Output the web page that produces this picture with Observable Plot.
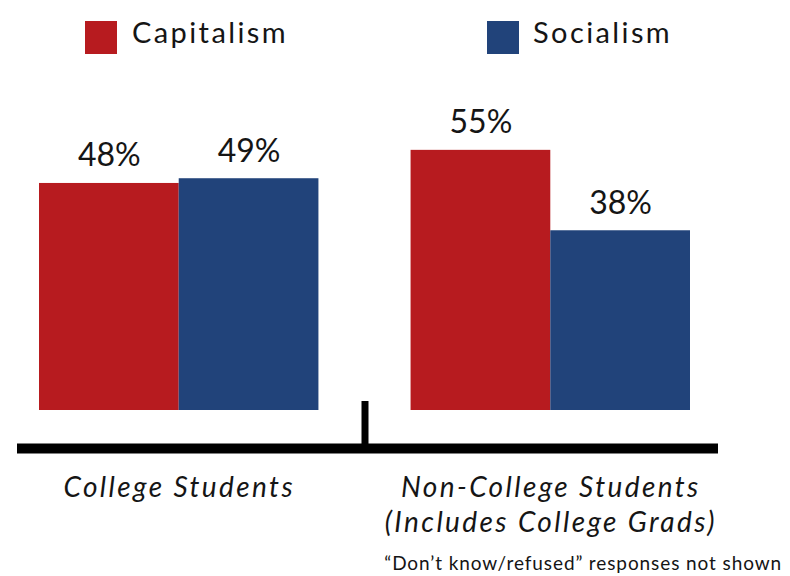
<!DOCTYPE html>
<html>
<head>
<meta charset="utf-8">
<script src="https://cdn.jsdelivr.net/npm/d3@7"></script>
<script src="https://cdn.jsdelivr.net/npm/@observablehq/plot@0.6"></script>
<style>
  html, body { margin: 0; padding: 0; background: #fff; }
  #wrap { position: relative; width: 790px; height: 576px; font-family: Lato, "DejaVu Sans", sans-serif; font-weight: 400; color: #151515; }
  .sw { position: absolute; width: 32px; height: 33px; top: 21px; }
  .lt { position: absolute; top: 17px; font-size: 29px; line-height: 1; letter-spacing: 2.4px; white-space: nowrap; }
  .note { position: absolute; right: 8px; top: 553px; font-size: 19px; line-height: 1; letter-spacing: 0.9px; white-space: nowrap; }
  svg { position: absolute; left: 0; top: 0; }
</style>
</head>
<body>
<div id="wrap"></div>
<script>
// ---- data ----
const groups = ["College Students", "Non-College Students\n(Includes College Grads)"];
const series = ["Capitalism", "Socialism"];
const capitalism = [48, 55];
const socialism = [49, 38];
const colors = ["#B71B1F", "#21437A"];
const footnote = "\u201CDon\u2019t know/refused\u201D responses not shown";

// ---- layout constants ----
const GAP = 92 / 139.5; // gap between groups, in bar widths

const values = [capitalism, socialism];
const rows = [];
groups.forEach((g, gi) => {
  series.forEach((s, si) => {
    const x1 = gi * (series.length + GAP) + si;
    rows.push({group: g, series: s, value: values[si][gi], x1, x2: x1 + 1});
  });
});
const groupCenters = groups.map((g, gi) => ({group: g, x: gi * (series.length + GAP) + series.length / 2}));
const midX = series.length + GAP / 2;

const chart = Plot.plot({
  width: 790,
  height: 576,
  marginLeft: 39,
  marginRight: 100,
  marginTop: 126.2,
  marginBottom: 166,
  style: {fontFamily: "Lato, 'DejaVu Sans', sans-serif", fontWeight: 400, background: "transparent", color: "#151515"},
  x: {type: "linear", domain: [0, 2 * series.length + GAP], axis: null},
  y: {domain: [0, 60], axis: null},
  color: {domain: series, range: colors},
  marks: [
    Plot.rectY(rows, {x1: "x1", x2: "x2", y1: 0, y2: "value", fill: "series"}),
    Plot.text(rows, {x: d => (d.x1 + d.x2) / 2, y: "value", text: d => d.value + "%", dy: -17, lineAnchor: "bottom", fontSize: 32, fill: "#151515"}),
    Plot.ruleY([0], {dy: 38, strokeWidth: 10, stroke: "#000", insetLeft: -22, insetRight: -28}),
    Plot.ruleX([midX], {y1: 0, y2: 0, insetTop: -9, insetBottom: -38, strokeWidth: 7, stroke: "#000"}),
    Plot.text(groupCenters, {x: "x", frameAnchor: "bottom", text: "group", dy: 61, lineAnchor: "top", lineHeight: 1.27, fontSize: 28, fontStyle: "italic", fill: "#151515", style: "letter-spacing: 2.4px"})
  ]
});

const wrap = document.getElementById("wrap");
wrap.appendChild(chart);
// letter spacing for category labels
d3.select(chart).selectAll("text").filter(function() { return this.closest("g") && this.closest("g").getAttribute("font-style") === "italic"; }).attr("letter-spacing", "2.4px");
d3.select(chart).selectAll("g[font-style='italic']").attr("letter-spacing", "2.4px");

const lx = [85, 487];
const tx = [132, 533];
series.forEach((s, i) => {
  const sw = document.createElement("div");
  sw.className = "sw";
  sw.style.left = lx[i] + "px";
  sw.style.background = colors[i];
  wrap.appendChild(sw);
  const t = document.createElement("div");
  t.className = "lt";
  t.style.left = tx[i] + "px";
  t.textContent = s;
  wrap.appendChild(t);
});

const note = document.createElement("div");
note.className = "note";
note.textContent = footnote;
wrap.appendChild(note);
</script>
</body>
</html>
